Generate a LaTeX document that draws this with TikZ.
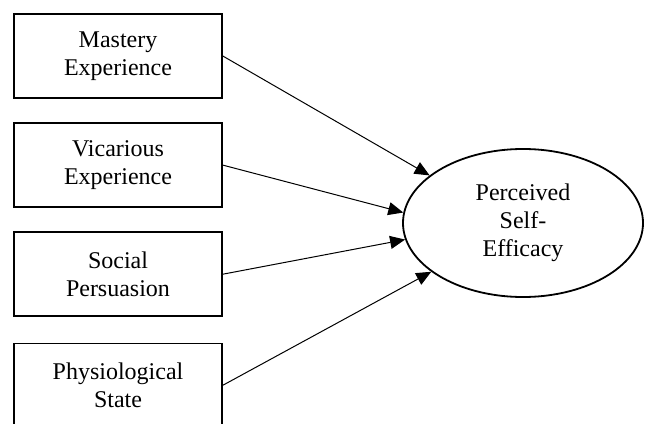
\documentclass[tikz,border=0pt]{standalone}
\usepackage{fontspec}
\setmainfont{Liberation Serif}
\usetikzlibrary{positioning,arrows.meta,shapes.geometric}

\begin{document}
\begin{tikzpicture}[x=1pt,y=-1pt,
		source/.style={draw,line width=1.6pt,minimum width=208pt,minimum height=84pt,inner sep=0pt,align=center,font=\fontsize{24}{28}\selectfont},
		target/.style={draw,ellipse,line width=1.8pt,minimum width=240pt,minimum height=148pt,inner sep=0pt,align=center,font=\fontsize{24}{28}\selectfont},
		link/.style={line width=1pt,-{Triangle[length=15pt,width=13pt]}}]
		\useasboundingbox (0,0) rectangle (645,423);
		\node[source] (mastery) at (118,56) {Mastery\\Experience};
		\node[source,below=23.5pt of mastery] (vicarious) {Vicarious\\Experience};
		\node[source,below=23.5pt of vicarious] (social) {Social\\Persuasion};
		\node[source,below=25.5pt of social] (physio) {Physiological\\State};
		\node[target] (efficacy) at (523,223) {Perceived\\Self-\\Efficacy};
		\draw[link] (mastery.east) -- (efficacy.153);
		\draw[link] (vicarious.east) -- (efficacy.175);
		\draw[link] (social.east) -- (efficacy.188);
		\draw[link] (physio.east) -- (efficacy.208);
	\end{tikzpicture}
\end{document}
